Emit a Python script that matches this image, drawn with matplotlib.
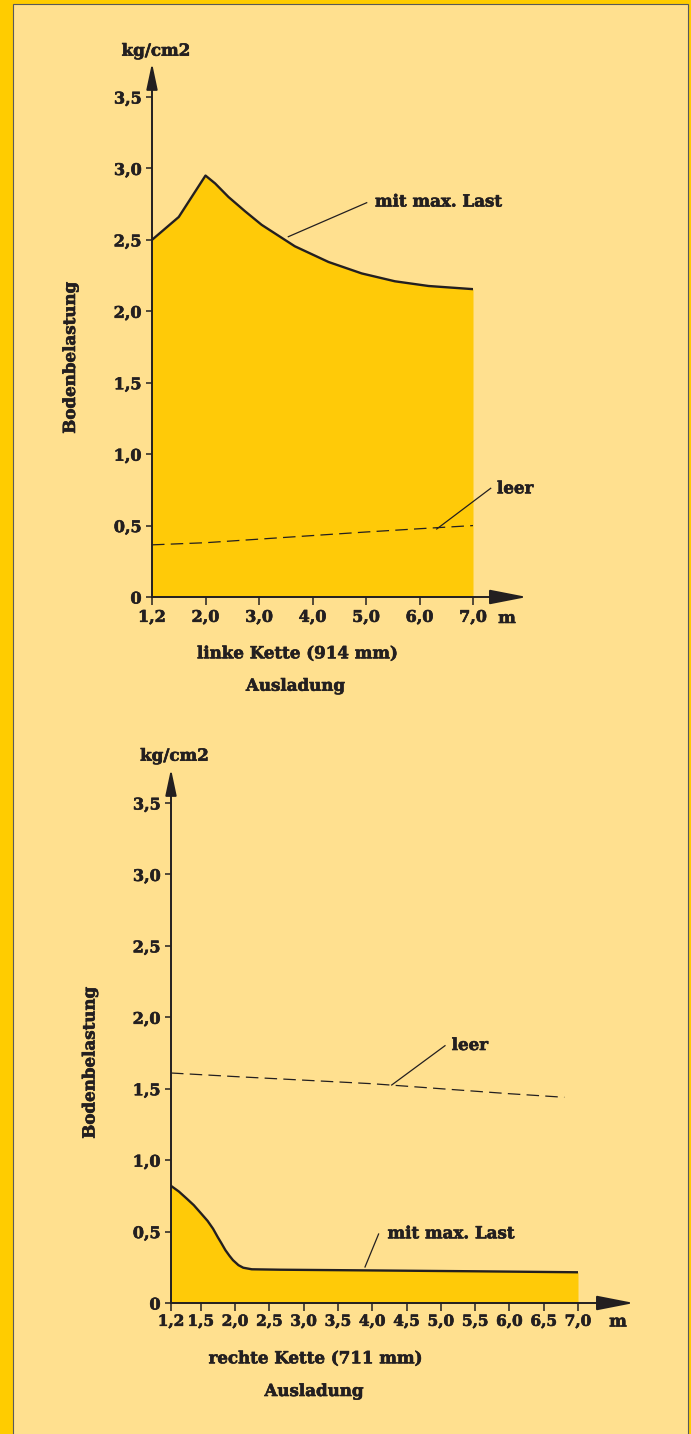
import numpy as np
import matplotlib
matplotlib.use('Agg')
import matplotlib.pyplot as plt
import matplotlib.patheffects as pe
from matplotlib.lines import Line2D
from matplotlib.patches import Rectangle

# values
top_ticks = [1.2, 2.0, 3.0, 4.0, 5.0, 6.0, 7.0]
top_tick_labels = ['1,2', '2,0', '3,0', '4,0', '5,0', '6,0', '7,0']
top_last_x = [1.2, 1.6, 2.0, 2.18, 2.43, 2.74, 3.05, 3.36, 3.67, 4.3, 4.92, 5.54, 6.17, 7.0]
top_last_y = [2.50, 2.66, 2.95, 2.895, 2.80, 2.70, 2.605, 2.53, 2.455, 2.345, 2.265, 2.21, 2.177, 2.155]
top_leer_x = [1.2, 2.0, 3.0, 4.0, 5.0, 6.0, 7.0]
top_leer_y = [0.365, 0.38, 0.405, 0.43, 0.455, 0.478, 0.50]

bot_ticks = [1.2, 1.5, 2.0, 2.5, 3.0, 3.5, 4.0, 4.5, 5.0, 5.5, 6.0, 6.5, 7.0]
bot_tick_labels = ['1,2', '1,5', '2,0', '2,5', '3,0', '3,5', '4,0', '4,5', '5,0', '5,5', '6,0', '6,5', '7,0']
bot_last_x = [1.2, 1.28, 1.36, 1.43, 1.5, 1.6, 1.68, 1.75, 1.8, 1.86, 1.92, 1.97, 2.05, 2.12, 2.245, 2.66, 4.0, 5.5, 7.0]
bot_last_y = [0.82, 0.78, 0.73, 0.685, 0.63, 0.575, 0.52, 0.46, 0.42, 0.37, 0.33, 0.30, 0.265, 0.247, 0.236, 0.233, 0.228, 0.222, 0.215]
bot_leer_x = [1.2, 2.0, 3.0, 4.0, 5.0, 6.0, 6.8]
bot_leer_y = [1.61, 1.585, 1.56, 1.535, 1.50, 1.465, 1.44]

y_ticks = [0, 0.5, 1.0, 1.5, 2.0, 2.5, 3.0, 3.5]
y_tick_labels = ['0', '0,5', '1,0', '1,5', '2,0', '2,5', '3,0', '3,5']

# colours
strip = '#FFCC00'
panel = '#FFE08F'
gold = '#FFCA08'
dark = '#231F20'

plt.rcParams['font.family'] = ['DejaVu Serif']
plt.rcParams['font.weight'] = 'bold'

heavy = [pe.withStroke(linewidth=0.45, foreground=dark)]

W, H = 691, 1434
fig = plt.figure(figsize=(W / 100, H / 100), dpi=100)
fig.patch.set_facecolor(strip)
fig.add_artist(Rectangle((12.5 / W, -0.01), (688 - 12.5) / W, 1.01 - 3.5 / H,
                         transform=fig.transFigure, facecolor=panel,
                         edgecolor='#5A5A5A', lw=0.8, zorder=-5))


def ftxt(x, y, s, **kw):
    kw.setdefault('fontsize', 12)
    kw.setdefault('color', dark)
    kw.setdefault('fontweight', 'bold')
    fig.text(x / W, 1 - y / H, s, path_effects=heavy, **kw)


def leader(x1, y1, x2, y2):
    fig.add_artist(Line2D([x1 / W, x2 / W], [1 - y1 / H, 1 - y2 / H],
                          transform=fig.transFigure, lw=0.9, color=dark))


def make_axes(left, right, y0, y35, ticks, slots, labels, xtip, ytip, xsize):
    ax = fig.add_axes([left / W, 1 - y0 / H, (right - left) / W, (y0 - y35) / H])
    ax.patch.set_visible(False)
    # uneven tick spacing -> map values onto evenly spaced slots
    tv = [ticks[0] - 1.0] + list(ticks) + [ticks[-1] + 1.0]
    sp = [slots[0] - 1.0] + list(slots) + [slots[-1] + 1.0]
    ax.set_xscale('function', functions=(lambda v: np.interp(v, tv, sp),
                                         lambda p: np.interp(p, sp, tv)))
    ax.set_xlim(ticks[0], ticks[-1])
    ax.set_ylim(0, 3.5)
    for s in ax.spines.values():
        s.set_visible(False)
    ax.set_xticks(ticks)
    ax.set_xticklabels(labels)
    ax.set_yticks(y_ticks)
    ax.set_yticklabels(y_tick_labels)
    ax.xaxis.set_minor_locator(matplotlib.ticker.NullLocator())
    ax.tick_params(axis='x', length=5.5, width=1.1, color=dark, pad=3,
                   labelsize=xsize, labelcolor=dark)
    ax.tick_params(axis='y', length=4.5, width=1.1, color=dark, pad=3,
                   labelsize=11.5, labelcolor=dark)
    for t in ax.get_xticklabels() + ax.get_yticklabels():
        t.set_fontweight('bold')
        t.set_path_effects(heavy)
    ax.annotate('', xy=(0, ytip), xytext=(0, 0), xycoords='axes fraction',
                arrowprops=dict(arrowstyle='-|>,head_length=1.6,head_width=0.34',
                                mutation_scale=10, lw=1.4, color=dark,
                                shrinkA=0, shrinkB=0), annotation_clip=False)
    ax.annotate('', xy=(xtip, 0), xytext=(0, 0), xycoords='axes fraction',
                arrowprops=dict(arrowstyle='-|>,head_length=2.3,head_width=0.45',
                                mutation_scale=10, lw=1.4, color=dark,
                                shrinkA=0, shrinkB=0), annotation_clip=False)
    return ax


# top chart: linke Kette
ax1 = make_axes(152, 473, 597, 97, top_ticks, list(range(7)), top_tick_labels,
                (527 - 152) / 321, (597 - 63) / 500, 11.5)
ax1.fill_between(top_last_x, top_last_y, 0, color=gold, lw=0)
ax1.plot(top_last_x, top_last_y, color=dark, lw=1.7, solid_joinstyle='round')
ax1.plot(top_leer_x, top_leer_y, color=dark, lw=0.9, ls=(0, (10, 5)))

ftxt(156, 55.7, 'kg/cm2', ha='center', va='baseline')
ftxt(75, 358, 'Bodenbelastung', rotation=90, rotation_mode='anchor',
     ha='center', va='baseline')
leader(288.3, 236.7, 366.7, 202.7)
ftxt(375, 206.5, 'mit max. Last', ha='left', va='baseline')
leader(436.7, 529, 490.7, 488.3)
ftxt(497, 493.3, 'leer', ha='left', va='baseline')
ftxt(507, 623, 'm', ha='center', va='baseline', fontsize=12)
ftxt(297, 658.3, 'linke Kette (914 mm)', ha='center', va='baseline')
ftxt(295.5, 690.7, 'Ausladung', ha='center', va='baseline')

# bottom chart: rechte Kette
bot_slots = [0, 0.866] + [1.866 + i for i in range(11)]
ax2 = make_axes(171, 578, 1303, 803, bot_ticks, bot_slots, bot_tick_labels,
                (634 - 171) / 407, (1303 - 769) / 500, 11)
ax2.fill_between(bot_last_x, bot_last_y, 0, color=gold, lw=0)
ax2.plot(bot_last_x, bot_last_y, color=dark, lw=1.7, solid_joinstyle='round')
ax2.plot(bot_leer_x, bot_leer_y, color=dark, lw=0.9, ls=(0, (10, 5)))

ftxt(174.5, 760.7, 'kg/cm2', ha='center', va='baseline')
ftxt(94.5, 1063, 'Bodenbelastung', rotation=90, rotation_mode='anchor',
     ha='center', va='baseline')
leader(391.7, 1085, 445, 1045.7)
ftxt(451.7, 1050, 'leer', ha='left', va='baseline')
leader(365, 1267, 378.6, 1234)
ftxt(387.5, 1238.3, 'mit max. Last', ha='left', va='baseline')
ftxt(618, 1326.5, 'm', ha='center', va='baseline', fontsize=12)
ftxt(315, 1363.3, 'rechte Kette (711 mm)', ha='center', va='baseline')
ftxt(314, 1396, 'Ausladung', ha='center', va='baseline')

fig.savefig('out.png', dpi=100, facecolor=fig.get_facecolor())
